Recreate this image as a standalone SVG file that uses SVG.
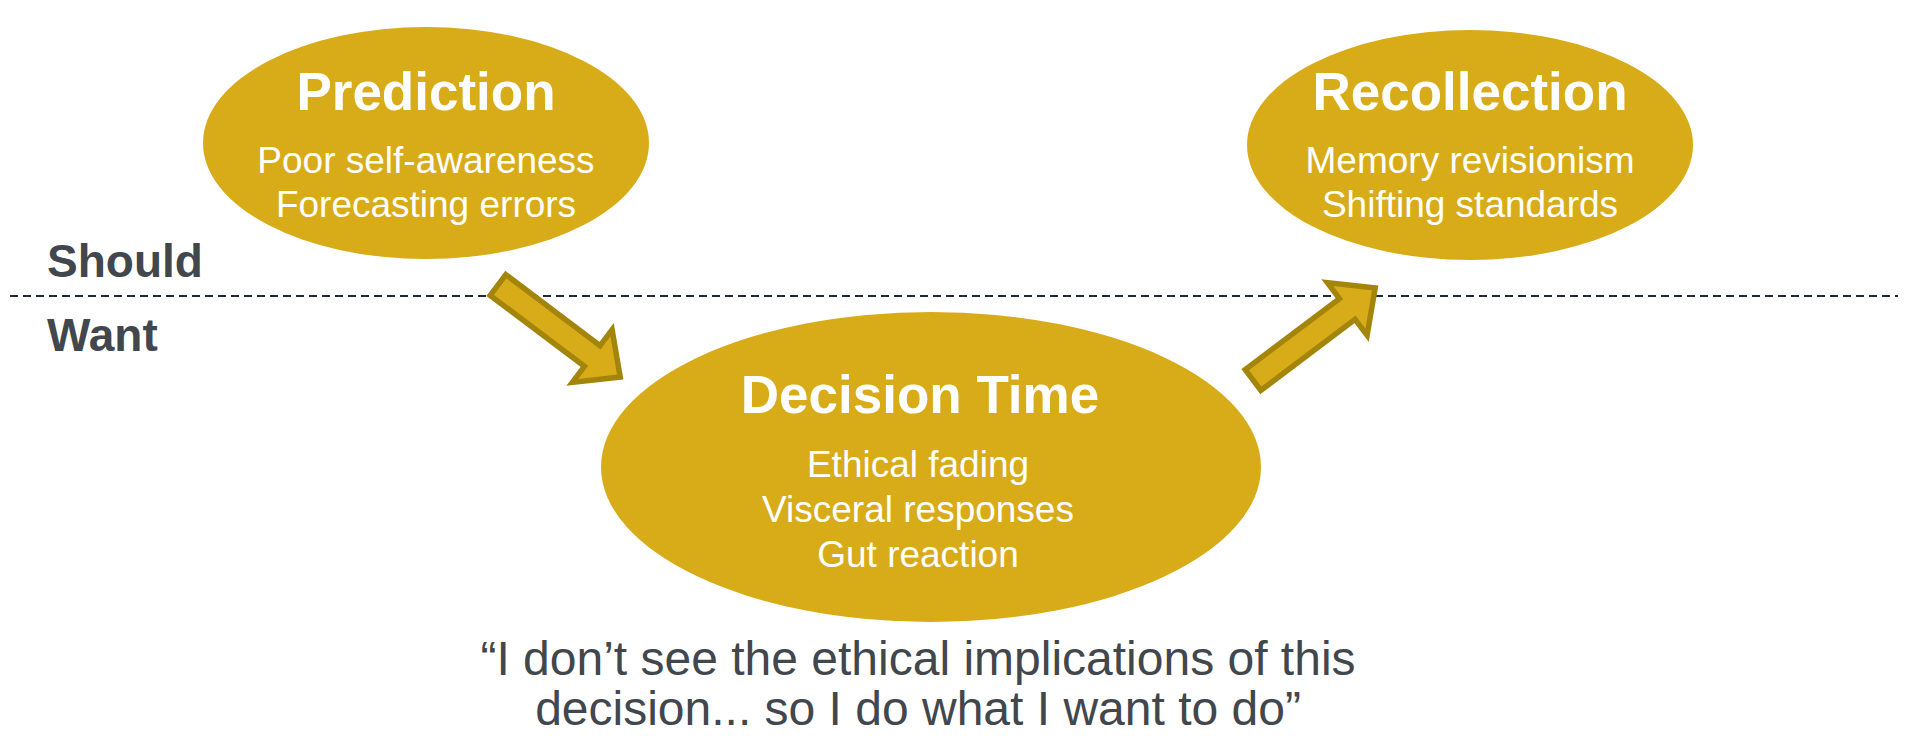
<svg xmlns="http://www.w3.org/2000/svg" width="1908" height="736" viewBox="0 0 1908 736">
  <defs>
    <style>
      .bubble { fill: #D8AC19; }
      .title { font-family: "Liberation Sans", Arial, sans-serif; font-weight: bold; font-size: 53px; fill: #FFFFFF; text-anchor: middle; }
      .item { font-family: "Liberation Sans", Arial, sans-serif; font-size: 37px; fill: #FFFFFF; text-anchor: middle; }
      .zone { font-family: "Liberation Sans", Arial, sans-serif; font-weight: bold; font-size: 46px; fill: #41474C; }
      .quote { font-family: "Liberation Sans", Arial, sans-serif; font-size: 48px; fill: #41474C; text-anchor: middle; }
      .divider { stroke: #1F2A33; stroke-width: 2; stroke-dasharray: 8 5; fill: none; }
      .flow { fill: #D8AC19; stroke: #A3850B; stroke-width: 5.5; stroke-linejoin: miter; }
    </style>
    <!-- block arrow pointing along +x, tail at origin -->
    <polygon id="blockArrow" points="0,-13 118,-13 118,-33 153,0 118,33 118,13 0,13"/>
  </defs>

  <rect width="1908" height="736" fill="#FFFFFF"/>

  <!-- Should / Want divider -->
  <g id="divider">
    <line class="divider" x1="10" y1="296" x2="1898" y2="296"/>
    <text class="zone" x="47" y="277">Should</text>
    <text class="zone" x="47" y="351">Want</text>
  </g>

  <g id="prediction">
    <ellipse class="bubble" cx="426" cy="143" rx="223" ry="116"/>
    <text class="title" x="426" y="110">Prediction</text>
    <text class="item" x="426" y="173">Poor self-awareness</text>
    <text class="item" x="426" y="217">Forecasting errors</text>
  </g>

  <g id="recollection">
    <ellipse class="bubble" cx="1470" cy="145" rx="223" ry="115"/>
    <text class="title" x="1470" y="110">Recollection</text>
    <text class="item" x="1470" y="173">Memory revisionism</text>
    <text class="item" x="1470" y="217">Shifting standards</text>
  </g>

  <g id="decision-time">
    <ellipse class="bubble" cx="931" cy="467" rx="330" ry="155"/>
    <text class="title" x="920" y="413">Decision Time</text>
    <text class="item" x="918" y="477">Ethical fading</text>
    <text class="item" x="918" y="522">Visceral responses</text>
    <text class="item" x="918" y="567">Gut reaction</text>
  </g>

  <g id="connectors">
    <use href="#blockArrow" class="flow" transform="translate(498,285) rotate(37)"/>
    <use href="#blockArrow" class="flow" transform="translate(1253,380) rotate(-37)"/>
  </g>

  <g id="quote">
    <text class="quote" x="918" y="675">“I don’t see the ethical implications of this</text>
    <text class="quote" x="918" y="725">decision... so I do what I want to do”</text>
  </g>
</svg>
